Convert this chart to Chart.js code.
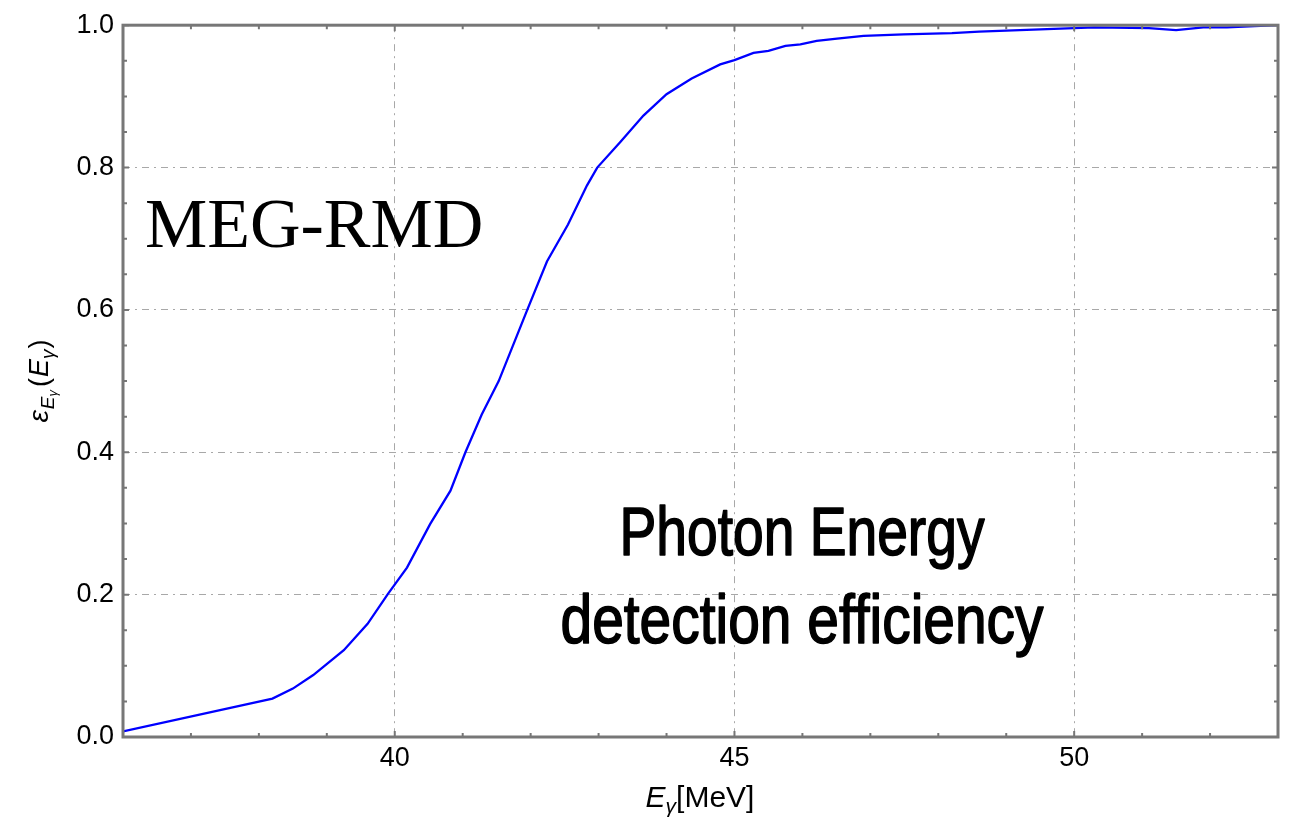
<!DOCTYPE html>
<html>
<head>
<meta charset="utf-8">
<script src="https://cdn.jsdelivr.net/npm/chart.js@4.4.1/dist/chart.umd.min.js"></script>
<style>
    body { margin: 0; background: #fff; }
    canvas { display: block; }
</style>
</head>
<body>
<canvas id="chart" width="1289" height="820"></canvas>
<script>
// photon energy (MeV) and detection efficiency
const energy = [36, 38.2, 38.5, 38.8, 39.25, 39.6, 39.9, 40.18, 40.52, 40.82, 41.04, 41.28, 41.53, 41.95,
    42.24, 42.55, 42.83, 42.98, 43.32, 43.66, 44.0, 44.37, 44.79, 45.0, 45.28, 45.5, 45.75, 45.97, 46.21,
    46.51, 46.9, 47.49, 48.2, 48.6, 49.2, 50.0, 50.3, 51.1, 51.5, 51.9, 52.25, 52.74, 53]
const efficiency = [0.008, 0.054, 0.068, 0.087, 0.122, 0.159, 0.201, 0.238, 0.299, 0.346, 0.4, 0.453, 0.5, 0.6,
    0.668, 0.72, 0.775, 0.8, 0.836, 0.873, 0.903, 0.925, 0.945, 0.951, 0.961, 0.964, 0.971, 0.973, 0.978,
    0.981, 0.985, 0.987, 0.989, 0.991, 0.993, 0.996, 0.997, 0.996, 0.993, 0.997, 0.997, 0.999, 1.0]

const xRange = [36, 53]
const yRange = [0, 1]
const xMajorTicks = [40, 45, 50]
const yMajorTicks = [0, 0.2, 0.4, 0.6, 0.8, 1.0]

const FRAME = "#777777"
const GRID = "#a8a8a8"
const SANS = "'Liberation Sans', Arial, sans-serif"

const isMajor = (list, v) => list.some(m => Math.abs(m - v) < 1e-6)

// frame + inward ticks on all four sides
const framePlugin = {
    id: "frame",
    afterDatasetsDraw(chart) {
        const { ctx, chartArea: a, scales: { x, y } } = chart
        ctx.save()
        ctx.strokeStyle = FRAME
        ctx.lineWidth = 2
        x.ticks.forEach(t => {
            const px = x.getPixelForValue(t.value)
            const len = isMajor(xMajorTicks, t.value) ? 6 : 4
            ctx.beginPath()
            ctx.moveTo(px, a.bottom); ctx.lineTo(px, a.bottom - len)
            ctx.moveTo(px, a.top); ctx.lineTo(px, a.top + len)
            ctx.stroke()
        })
        y.ticks.forEach(t => {
            const py = y.getPixelForValue(t.value)
            const len = isMajor(yMajorTicks, t.value) ? 6 : 4
            ctx.beginPath()
            ctx.moveTo(a.left, py); ctx.lineTo(a.left + len, py)
            ctx.moveTo(a.right, py); ctx.lineTo(a.right - len, py)
            ctx.stroke()
        })
        ctx.lineWidth = 3
        ctx.strokeRect(a.left, a.top, a.right - a.left, a.bottom - a.top)
        ctx.restore()
    },
}

// draws a run of [text, font, baselineShift, gapAfter] pieces starting at x
function drawRun(ctx, pieces, x, y) {
    pieces.forEach(([txt, font, dy, gap = 0]) => {
        ctx.font = font
        ctx.fillText(txt, x, y + dy)
        x += ctx.measureText(txt).width + gap
    })
}
function runWidth(ctx, pieces) {
    return pieces.reduce((w, [txt, font, , gap = 0]) => {
        ctx.font = font
        return w + ctx.measureText(txt).width + gap
    }, 0)
}

const labelsPlugin = {
    id: "labels",
    afterDraw(chart) {
        const { ctx } = chart
        ctx.save()
        ctx.fillStyle = "#000"
        ctx.textBaseline = "alphabetic"
        ctx.textAlign = "left"

        // x axis title
        const xTitle = [
            ["E", `italic 30px ${SANS}`, 0],
            ["γ", `italic 21px ${SANS}`, 6],
            ["[MeV]", `30px ${SANS}`, 0],
        ]
        drawRun(ctx, xTitle, 700 - runWidth(ctx, xTitle) / 2, 807)

        // y axis title, rotated
        const yTitle = [
            ["ε", `italic 28px ${SANS}`, 0, 1],
            ["E", `italic 19px ${SANS}`, 6],
            ["γ", `italic 13px ${SANS}`, 9, 3],
            ["(", `27px ${SANS}`, 0, 1],
            ["E", `italic 27px ${SANS}`, 0],
            ["γ", `italic 19px ${SANS}`, 6, 1],
            [")", `27px ${SANS}`, 0],
        ]
        ctx.save()
        ctx.translate(48, 381)
        ctx.rotate(-Math.PI / 2)
        drawRun(ctx, yTitle, -runWidth(ctx, yTitle) / 2, 0)
        ctx.restore()

        // in-plot annotations
        ctx.font = `70px 'Liberation Serif', 'Times New Roman', serif`
        ctx.fillText("MEG-RMD", 145, 247)

        ctx.font = `68px ${SANS}`
        ctx.strokeStyle = "#000"
        ctx.lineWidth = 1.6
        ctx.lineJoin = "round"
        const lines = [["Photon Energy", 555, 365], ["detection efficiency", 643, 483]]
        lines.forEach(([txt, base, target]) => {
            const w = ctx.measureText(txt).width
            const sx = target / w
            ctx.save()
            ctx.translate(802, base)
            ctx.scale(sx, 1)
            ctx.fillText(txt, -w / 2, 0)
            ctx.strokeText(txt, -w / 2, 0)
            ctx.restore()
        })
        ctx.restore()
    },
}

const ctx = document.getElementById("chart").getContext("2d")

new Chart(ctx, {
    type: "line",
    data: {
        datasets: [
            {
                data: energy.map((e, i) => ({ x: e, y: efficiency[i] })),
                borderColor: "#0000ff",
                borderWidth: 2.3,
                pointRadius: 0,
                tension: 0,
                fill: false,
            },
        ],
    },
    options: {
        responsive: false,
        animation: false,
        layout: { padding: { top: 23, right: 11, left: 0, bottom: 0 } },
        plugins: {
            legend: { display: false },
            tooltip: { enabled: false },
        },
        scales: {
            x: {
                type: "linear",
                min: xRange[0],
                max: xRange[1],
                afterFit: scale => { scale.height = 83 },
                ticks: {
                    stepSize: 1,
                    autoSkip: false,
                    maxRotation: 0,
                    padding: 5,
                    color: "#000",
                    font: { family: SANS, size: 27 },
                    callback: v => (isMajor(xMajorTicks, v) ? String(v) : ""),
                },
                grid: {
                    drawTicks: false,
                    lineWidth: 1,
                    color: c => (isMajor(xMajorTicks, c.tick.value) && c.tick.value < xRange[1] ? GRID : "transparent"),
                },
                border: { display: false, dash: [7, 5, 2, 5] },
            },
            y: {
                type: "linear",
                min: yRange[0],
                max: yRange[1],
                afterFit: scale => { scale.width = 123 },
                ticks: {
                    stepSize: 0.05,
                    autoSkip: false,
                    padding: 9,
                    color: "#000",
                    font: { family: SANS, size: 27 },
                    callback: v => (isMajor(yMajorTicks, v) ? v.toFixed(1) : ""),
                },
                grid: {
                    drawTicks: false,
                    lineWidth: 1,
                    color: c => {
                        const v = c.tick.value
                        return isMajor(yMajorTicks, v) && v > 0 && v < 1 ? GRID : "transparent"
                    },
                },
                border: { display: false, dash: [7, 5, 2, 5] },
            },
        },
    },
    plugins: [framePlugin, labelsPlugin],
})
</script>
</body>
</html>
